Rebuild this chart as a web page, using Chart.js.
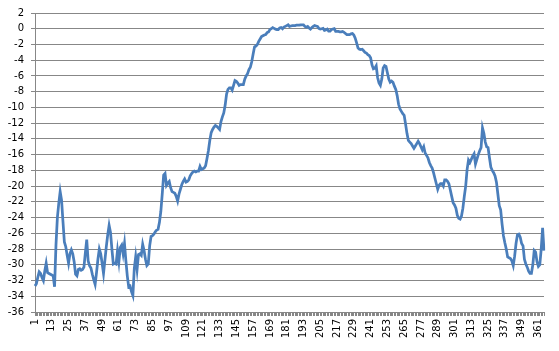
<!DOCTYPE html>
<html>
<head>
<meta charset="utf-8">
<script src="https://cdn.jsdelivr.net/npm/chart.js@4.4.0/dist/chart.umd.min.js"></script>
<style>
  html, body { margin: 0; padding: 0; background: #fff; }
</style>
</head>
<body>
<canvas id="chart" width="559" height="351"></canvas>
<script>
// day numbers along the category axis
const days = Array.from({ length: 365 }, (_, i) => String(i + 1));

// series values (12 per row)
const values = [
  -32.7, -32.4, -31.6, -30.9, -31.1, -31.6, -32.0, -30.8, -29.8, -31.0, -31.1, -31.2,
  -31.3, -31.4, -32.8, -27.5, -24.0, -22.2, -20.7, -21.8, -24.5, -27.1, -27.7, -28.8,
  -29.8, -28.6, -28.1, -28.6, -29.6, -31.2, -31.4, -30.6, -30.5, -30.7, -30.6, -30.3,
  -28.5, -26.8, -29.5, -30.1, -30.4, -31.2, -31.9, -32.5, -31.0, -29.3, -28.0, -28.6,
  -29.8, -31.1, -29.4, -27.7, -26.2, -25.0, -25.9, -28.0, -29.9, -29.8, -29.9, -28.2,
  -29.6, -27.8, -27.5, -28.6, -27.3, -29.5, -31.4, -32.8, -32.7, -33.4, -33.9, -30.5,
  -29.0, -30.6, -28.7, -28.6, -28.8, -27.4, -28.2, -29.3, -30.1, -29.9, -27.6, -26.4,
  -26.3, -26.1, -25.8, -25.6, -25.5, -24.6, -23.2, -21.0, -18.6, -18.4, -19.9, -19.6,
  -19.4, -20.2, -20.7, -20.8, -20.9, -21.3, -21.9, -21.0, -20.4, -19.8, -19.4, -19.1,
  -19.5, -19.4, -19.2, -18.7, -18.4, -18.2, -18.1, -18.2, -18.1, -18.1, -17.5, -17.9,
  -17.8, -17.7, -17.4, -16.5, -15.5, -14.2, -13.2, -12.8, -12.5, -12.3, -12.4, -12.6,
  -12.8, -11.8, -11.2, -10.7, -9.7, -8.3, -7.7, -7.5, -7.5, -7.8, -7.2, -6.6,
  -6.7, -6.9, -7.2, -7.1, -7.1, -7.1, -6.4, -6.0, -5.7, -5.2, -4.9, -4.2,
  -3.2, -2.3, -2.2, -2.0, -1.6, -1.3, -1.0, -0.9, -0.8, -0.75, -0.5, -0.4,
  -0.1, 0.0, 0.15, 0.05, -0.05, -0.1, -0.1, 0.1, 0.15, 0.0, 0.2, 0.3,
  0.4, 0.5, 0.3, 0.35, 0.4, 0.4, 0.4, 0.45, 0.45, 0.45, 0.5, 0.5,
  0.5, 0.3, 0.2, 0.3, 0.1, -0.05, 0.15, 0.3, 0.4, 0.35, 0.3, 0.05,
  -0.05, 0.0, 0.05, -0.2, -0.15, -0.05, -0.3, -0.3, -0.1, -0.05, 0.0, -0.35,
  -0.35, -0.35, -0.4, -0.4, -0.35, -0.45, -0.6, -0.75, -0.75, -0.75, -0.65, -0.6,
  -0.8, -1.2, -1.8, -2.45, -2.6, -2.65, -2.6, -2.8, -3.0, -3.1, -3.3, -3.4,
  -3.7, -4.6, -5.1, -5.0, -4.7, -6.2, -6.9, -7.2, -6.4, -5.0, -4.7, -4.8,
  -5.6, -6.4, -6.8, -6.65, -6.8, -7.3, -7.7, -8.5, -9.6, -10.2, -10.5, -10.8,
  -11.0, -12.1, -13.3, -14.2, -14.4, -14.6, -14.9, -15.2, -14.9, -14.6, -14.3, -14.6,
  -15.0, -15.4, -15.0, -15.8, -16.1, -16.4, -17.0, -17.4, -17.7, -18.3, -19.0, -19.7,
  -20.4, -19.9, -19.7, -19.7, -20.0, -19.2, -19.2, -19.4, -19.7, -20.5, -21.3, -22.1,
  -22.4, -22.8, -23.7, -24.1, -24.2, -23.8, -22.8, -21.3, -20.0, -17.9, -16.7, -17.0,
  -16.6, -16.2, -15.9, -17.2, -16.6, -16.0, -15.5, -15.1, -12.6, -13.3, -14.4, -15.0,
  -15.1, -16.4, -17.6, -18.0, -18.3, -18.7, -19.5, -21.0, -22.5, -23.0, -24.8, -26.3,
  -27.2, -28.0, -29.0, -29.1, -29.2, -29.5, -30.1, -28.9, -27.3, -26.2, -26.1, -26.5,
  -27.3, -27.6, -29.3, -29.9, -30.3, -30.8, -31.1, -31.1, -30.0, -28.2, -28.4, -29.6,
  -30.2, -30.0, -28.0, -25.3, -28.2
];

// axis range
const yMin = -36;
const yMax = 2;
const yStep = 2;
const labelEvery = 12;

const axisGrey = '#878787';
const tickFont = { family: 'DejaVu Sans', size: 10 };

const ctx = document.getElementById('chart').getContext('2d');
const chart = new Chart(ctx, {
    type: 'line',
    data: {
        labels: days,
        datasets: [{
            data: values,
            borderColor: '#4a7ebb',
            borderWidth: 2.75,
            pointRadius: 0,
            tension: 0,
            fill: false
        }]
    },
    options: {
        responsive: false,
        animation: false,
        devicePixelRatio: 1,
        layout: {
            padding: { top: 11, right: 7, bottom: 0, left: 0 }
        },
        plugins: {
            legend: { display: false },
            tooltip: { enabled: false }
        },
        scales: {
            x: {
                offset: false,
                grid: {
                    display: true,
                    drawOnChartArea: false,
                    drawTicks: true,
                    tickLength: 4,
                    color: axisGrey
                },
                border: { display: true, color: axisGrey },
                ticks: {
                    autoSkip: false,
                    minRotation: 90,
                    maxRotation: 90,
                    padding: 3,
                    color: '#000',
                    font: tickFont,
                    callback: function(value, index) {
                        return index % labelEvery === 0 ? days[index] : '';
                    }
                },
                afterFit: function(scale) { scale.height = 39; }
            },
            y: {
                min: yMin,
                max: yMax,
                grid: {
                    color: axisGrey,
                    tickLength: 4
                },
                border: { display: true, color: axisGrey },
                ticks: {
                    stepSize: yStep,
                    padding: 7,
                    color: '#000',
                    font: tickFont
                },
                afterFit: function(scale) { scale.width = 35; }
            }
        }
    }
});
</script>
</body>
</html>
